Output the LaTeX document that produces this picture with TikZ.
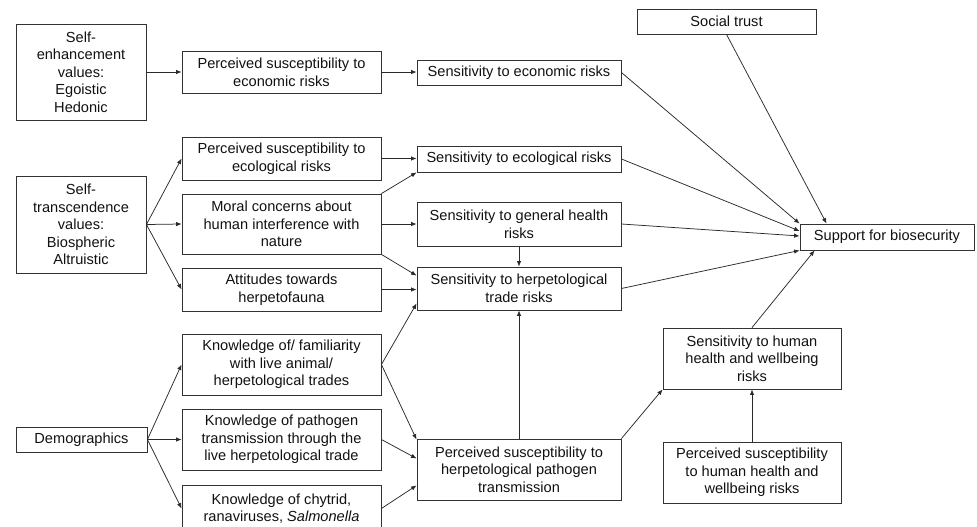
\documentclass[tikz,border=0pt]{standalone}
\usepackage{fontspec}
\setmainfont{Liberation Sans}
\usetikzlibrary{arrows.meta,calc}
\definecolor{boxgray}{HTML}{333333}
\definecolor{linegray}{HTML}{2A2A2A}
\definecolor{textblack}{HTML}{111111}
\begin{document}
\begin{tikzpicture}[x=1pt,y=-1pt,
  box/.style={draw=boxgray, line width=0.85pt, inner sep=0pt, align=center, text=textblack,
    font=\fontsize{14.6}{17.6}\selectfont},
  link/.style={draw=linegray, line width=0.75pt, -{Latex[length=5.5pt,width=4.5pt]}},
]
\useasboundingbox (0,0) rectangle (977,527);
\clip (0,0) rectangle (977,527);

% left column
\node[box, minimum width=130pt, minimum height=96pt] (selfenh) at (81,72)
  {Self-\\enhancement\\values:\\Egoistic\\Hedonic};
\node[box, minimum width=130pt, minimum height=97pt] (selftrans) at (81,224.5)
  {Self-\\transcendence\\values:\\Biospheric\\Altruistic};
\node[box, minimum width=131pt, minimum height=25pt] (demo) at (81.5,439.5)
  {Demographics};

% second column
\node[box, minimum width=199pt, minimum height=42pt] (psecon) at (281.5,72)
  {Perceived susceptibility to\\economic risks};
\node[box, minimum width=199pt, minimum height=43pt] (psecol) at (281.5,158.5)
  {Perceived susceptibility to\\ecological risks};
\node[box, minimum width=199pt, minimum height=60pt] (moral) at (281.5,224)
  {Moral concerns about\\human interference with\\nature};
\node[box, minimum width=199pt, minimum height=43pt] (attitudes) at (281.5,289.5)
  {Attitudes towards\\herpetofauna};
\node[box, minimum width=199pt, minimum height=61pt] (knowfam) at (281.5,364.5)
  {Knowledge of/ familiarity\\with live animal/\\herpetological trades};
\node[box, minimum width=199pt, minimum height=61pt] (knowpath) at (281.5,439.5)
  {Knowledge of pathogen\\transmission through the\\live herpetological trade};
\node[box, minimum width=199pt, minimum height=47pt] (chytrid) at (281.5,508.5)
  {Knowledge of chytrid,\\ranaviruses, \textit{Salmonella}};

% third column
\node[box, minimum width=204pt, minimum height=25pt] (sensecon) at (519,72.5)
  {Sensitivity to economic risks};
\node[box, minimum width=204pt, minimum height=26pt] (sensecol) at (519,159)
  {Sensitivity to ecological risks};
\node[box, minimum width=204pt, minimum height=44pt] (genhealth) at (519,224)
  {Sensitivity to general health\\risks};
\node[box, minimum width=204pt, minimum height=43pt] (sensherp) at (519,288.5)
  {Sensitivity to herpetological\\trade risks};
\node[box, minimum width=204pt, minimum height=61pt] (perherp) at (519,469.5)
  {Perceived susceptibility to\\herpetological pathogen\\transmission};

% right part
\node[box, minimum width=179pt, minimum height=25pt] (social) at (726.5,21.5)
  {Social trust};
\node[box, minimum width=174pt, minimum height=26pt] (support) at (887,237)
  {Support for biosecurity};
\node[box, minimum width=178pt, minimum height=61pt] (senshuman) at (752,358.5)
  {Sensitivity to human\\health and wellbeing\\risks};
\node[box, minimum width=178pt, minimum height=61pt] (perhuman) at (752,472.5)
  {Perceived susceptibility\\to human health and\\wellbeing risks};

% connectors
\draw[link] (selfenh.east |- psecon.west) -- (psecon.west);
\draw[link] (psecon.east) -- (psecon.east -| sensecon.west);
\draw[link] (psecol.east) -- (psecol.east -| sensecol.west);

\draw[link] (selftrans.east) -- (psecol.west);
\draw[link] (selftrans.east) -- (moral.west);
\draw[link] (selftrans.east) -- (attitudes.west);

\draw[link] (moral.north east) -- (sensecol.south west);
\draw[link] (moral.east) -- (moral.east -| genhealth.west);
\draw[link] (moral.south east) -- ($(sensherp.north west)+(0,9)$);
\draw[link] (attitudes.east) -- (attitudes.east -| sensherp.west);
\draw[link] (knowfam.east) -- ($(sensherp.south west)+(0,-7)$);
\draw[link] (knowfam.east) -- ($(perherp.north west)+(0,1)$);
\draw[link] (knowpath.east) -- ($(perherp.west)+(0,-11)$);
\draw[link] (chytrid.east) -- ($(perherp.south west)+(0,-15)$);

\draw[link] (demo.east) -- (knowfam.west);
\draw[link] (demo.east) -- (knowpath.west);
\draw[link] (demo.east) -- (chytrid.west);

\draw[link] (genhealth.south) -- (sensherp.north);
\draw[link] (perherp.north) -- (sensherp.south);
\draw[link] (perherp.north east) -- (senshuman.south west);
\draw[link] (perhuman.north) -- (senshuman.south);

\draw[link] (sensecon.east) -- (support.north west);
\draw[link] (sensecol.east) -- ($(support.west)+(0,-6)$);
\draw[link] (genhealth.east) -- ($(support.west)+(0,-1)$);
\draw[link] (sensherp.east) -- (support.south west);
\draw[link] (senshuman.north) -- ($(support.south west)+(15,0)$);
\draw[link] (social.south) -- ($(support.north west)+(27,0)$);
\end{tikzpicture}
\end{document}
